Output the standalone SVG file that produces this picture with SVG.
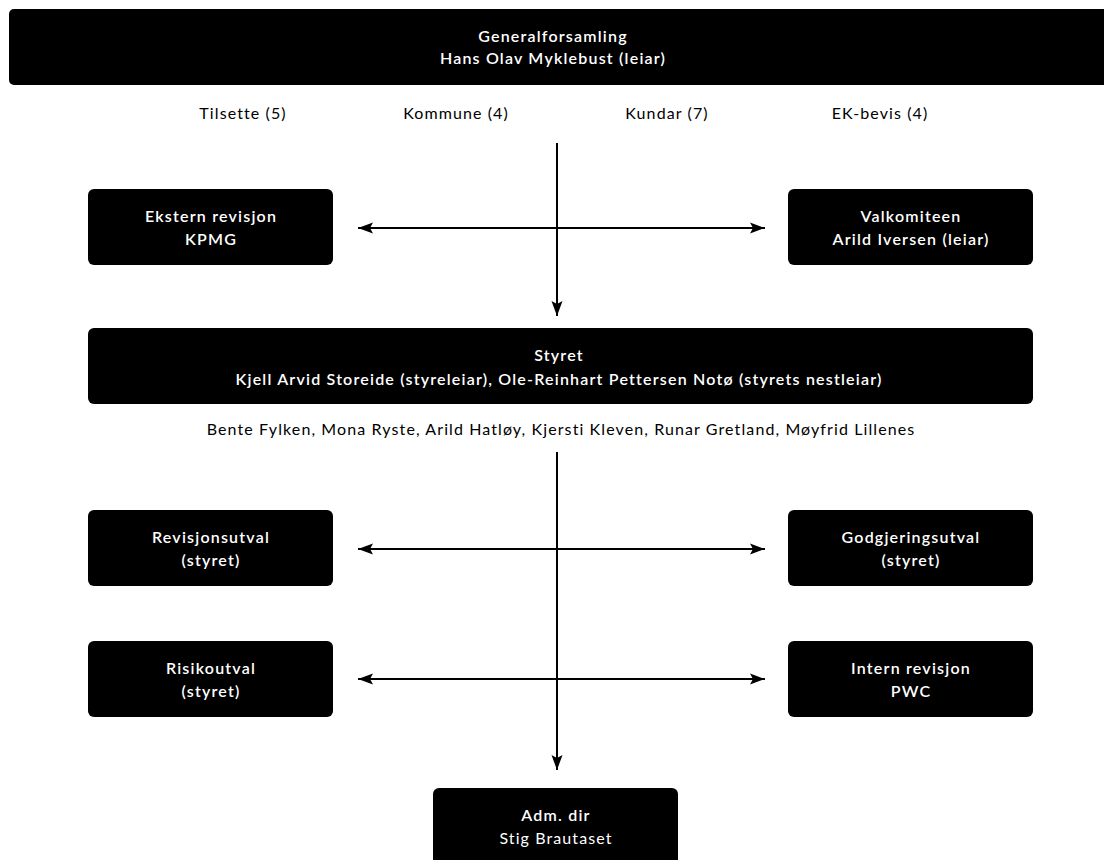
<svg xmlns="http://www.w3.org/2000/svg" width="1104" height="860" viewBox="0 0 1104 860">
  <defs>
    <style>
      .box { fill: #000; }
      .t { font-family: Lato, "Open Sans", "Liberation Sans", sans-serif; font-size: 16px; text-anchor: middle; letter-spacing: 1.1px; }
      .w { fill: #fff; font-weight: 600; letter-spacing: 1.2px; }
      .wl { fill: #fff; font-weight: 400; }
      .k { fill: #000; font-weight: 400; }
      .conn { stroke: #000; stroke-width: 2; fill: none; }
    </style>
    <marker id="ah" markerUnits="userSpaceOnUse" markerWidth="16" markerHeight="12" refX="15" refY="6" orient="auto-start-reverse" viewBox="0 0 16 12">
      <path d="M0,0.5 L15,6 L0,11.5 L3,6 z" fill="#000"/>
    </marker>
  </defs>
  <rect width="1104" height="860" fill="#fff"/>

  <g id="connectors">
    <line class="conn" x1="557" y1="143" x2="557" y2="316" marker-end="url(#ah)"/>
    <line class="conn" x1="358" y1="228" x2="765" y2="228" marker-start="url(#ah)" marker-end="url(#ah)"/>
    <line class="conn" x1="557" y1="452" x2="557" y2="770" marker-end="url(#ah)"/>
    <line class="conn" x1="358" y1="549" x2="765" y2="549" marker-start="url(#ah)" marker-end="url(#ah)"/>
    <line class="conn" x1="358" y1="679" x2="765" y2="679" marker-start="url(#ah)" marker-end="url(#ah)"/>
  </g>

  <g id="generalforsamling">
    <rect class="box" x="9" y="9" width="1110" height="76" rx="5"/>
    <text class="t w" x="553" y="42">Generalforsamling</text>
    <text class="t w" x="553" y="64">Hans Olav Myklebust (leiar)</text>
  </g>

  <g id="members-gf">
    <text class="t k" x="243" y="119">Tilsette (5)</text>
    <text class="t k" x="456" y="119">Kommune (4)</text>
    <text class="t k" x="667" y="119">Kundar (7)</text>
    <text class="t k" x="880" y="119">EK-bevis (4)</text>
  </g>

  <g id="ekstern-revisjon">
    <rect class="box" x="88" y="189" width="245" height="76" rx="6"/>
    <text class="t w" x="211" y="222">Ekstern revisjon</text>
    <text class="t w" x="211" y="245">KPMG</text>
  </g>

  <g id="valkomiteen">
    <rect class="box" x="788" y="189" width="245" height="76" rx="6"/>
    <text class="t w" x="911" y="222">Valkomiteen</text>
    <text class="t w" x="911" y="245">Arild Iversen (leiar)</text>
  </g>

  <g id="styret">
    <rect class="box" x="88" y="328" width="945" height="76" rx="6"/>
    <text class="t w" x="559" y="361">Styret</text>
    <text class="t w" x="559" y="385">Kjell Arvid Storeide (styreleiar), Ole-Reinhart Pettersen Notø (styrets nestleiar)</text>
  </g>

  <g id="styret-members">
    <text class="t k" x="561" y="435">Bente Fylken, Mona Ryste, Arild Hatløy, Kjersti Kleven, Runar Gretland, Møyfrid Lillenes</text>
  </g>

  <g id="revisjonsutval">
    <rect class="box" x="88" y="510" width="245" height="76" rx="6"/>
    <text class="t w" x="211" y="543">Revisjonsutval</text>
    <text class="t w" x="211" y="566">(styret)</text>
  </g>

  <g id="godgjeringsutval">
    <rect class="box" x="788" y="510" width="245" height="76" rx="6"/>
    <text class="t w" x="911" y="543">Godgjeringsutval</text>
    <text class="t w" x="911" y="566">(styret)</text>
  </g>

  <g id="risikoutval">
    <rect class="box" x="88" y="641" width="245" height="76" rx="6"/>
    <text class="t w" x="211" y="674">Risikoutval</text>
    <text class="t w" x="211" y="697">(styret)</text>
  </g>

  <g id="intern-revisjon">
    <rect class="box" x="788" y="641" width="245" height="76" rx="6"/>
    <text class="t w" x="911" y="674">Intern revisjon</text>
    <text class="t w" x="911" y="697">PWC</text>
  </g>

  <g id="adm-dir">
    <rect class="box" x="433" y="788" width="245" height="80" rx="6"/>
    <text class="t w" x="556" y="821">Adm. dir</text>
    <text class="t wl" x="556" y="844">Stig Brautaset</text>
  </g>
</svg>
